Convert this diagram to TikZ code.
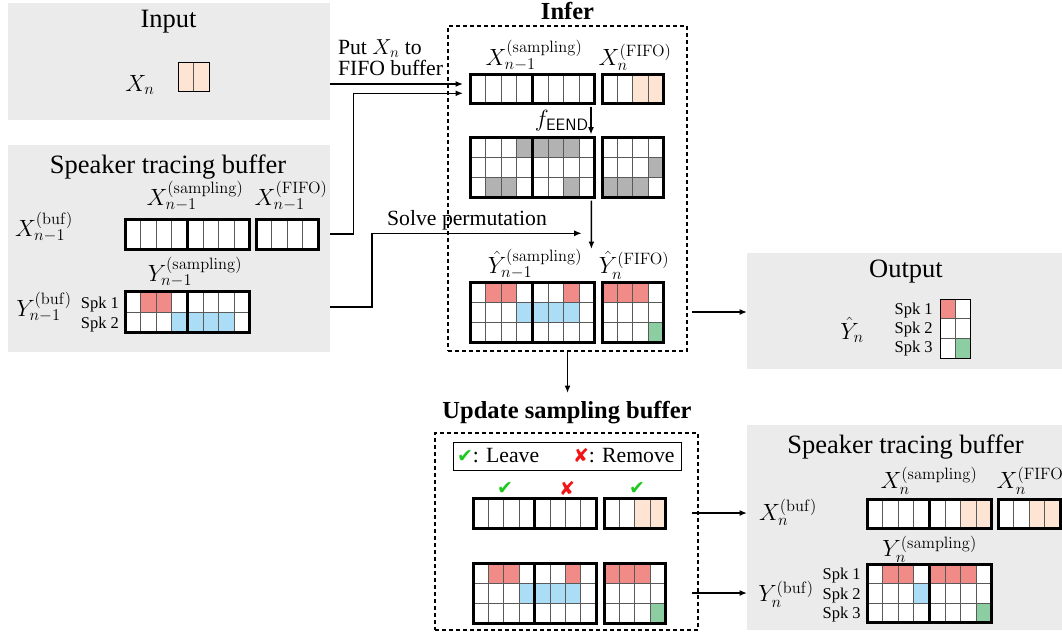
\RequirePackage{fix-cm}
\documentclass[tikz,border=0pt]{standalone}
\usepackage[no-math]{fontspec}
\setmainfont{Liberation Serif}
\newfontfamily\dvs{DejaVu Sans}
\usetikzlibrary{arrows.meta}
\definecolor{colw}{RGB}{255,255,255}
\definecolor{colp}{RGB}{241,139,135}
\definecolor{colb}{RGB}{172,221,246}
\definecolor{colg}{RGB}{140,205,162}
\definecolor{colo}{RGB}{253,228,211}
\definecolor{colk}{RGB}{178,178,178}
\definecolor{bgg}{RGB}{235,235,235}
\definecolor{chkgreen}{RGB}{30,200,30}
\definecolor{crossred}{RGB}{240,20,20}
\tikzset{
 cellst/.style={draw=black!65, line width=0.9pt},
 thickout/.style={draw=black, line width=3pt, inner sep=0pt, outer sep=0pt},
 thinout/.style={draw=black, line width=1pt, inner sep=0pt, outer sep=0pt},
 graybox/.style={fill=bgg, inner sep=0pt, outer sep=0pt, anchor=north west},
 dashbox/.style={draw, dash pattern=on 4pt off 3pt, line width=1.2pt, inner sep=0pt, outer sep=0pt, anchor=north west},
 arr/.style={line width=1.4pt, -{Latex[length=7.5pt,width=6pt]}},
 lbl/.style={inner sep=0pt, outer sep=0pt},
 ttl/.style={lbl, font=\fontsize{26.5}{30}\selectfont},
 bttl/.style={lbl, font=\fontsize{24.5}{28}\selectfont\bfseries},
 txt/.style={lbl, font=\fontsize{21.7}{24}\selectfont},
 mth/.style={lbl, font=\fontsize{23.5}{26}\selectfont},
 spk/.style={lbl, font=\fontsize{16.5}{19}\selectfont},
 tickmk/.style={lbl, font=\dvs\fontsize{19}{19}\selectfont},
}
\newcommand{\blk}[9]{%
  \foreach \rowL [count=\rI] in {#8} {
    \foreach \cellC [count=\cI] in \rowL {
      \filldraw[cellst, fill=col\cellC] ({#2+(\cI-1)*#4},{#3+(\rI-1)*#5}) rectangle ++(#4,#5);
    }
  }
  \node[#9, minimum width={#6*#4pt}, minimum height={#7*#5pt}, anchor=north west] (#1) at (#2,#3) {};
}
\begin{document}
\begin{tikzpicture}[x=1pt,y=-1pt]
\useasboundingbox (0,0) rectangle (1062,635);
\clip (0,0) rectangle (1062,635);
% background boxes
\node[graybox, minimum width=322pt, minimum height=117pt] (inbox) at (8,2.5) {};
\node[graybox, minimum width=322pt, minimum height=206.5pt] (lbbox) at (8,145) {};
\node[graybox, minimum width=330pt, minimum height=116pt] (outbox) at (747,253) {};
\node[graybox, minimum width=330pt, minimum height=205pt] (rbbox) at (747,425) {};
\node[dashbox, minimum width=239pt, minimum height=325pt] (inferbox) at (448,26) {};
\node[dashbox, minimum width=263pt, minimum height=197pt] (updbox) at (435,433) {};
% input
\blk{inX}{178}{62}{15.5}{29}{2}{1}{{o,o}}{thinout}
% left buffer
\blk{lbXa}{125}{219}{15.6}{30}{4}{1}{{w,w,w,w}}{thickout}
\blk{lbXb}{187.4}{219}{15.6}{30}{4}{1}{{w,w,w,w}}{thickout}
\blk{lbXf}{256}{219}{15.6}{30}{4}{1}{{w,w,w,w}}{thickout}
\blk{lbYa}{125}{291.5}{15.6}{20.5}{4}{2}{{w,p,p,w},{w,w,w,b}}{thickout}
\blk{lbYb}{187.4}{291.5}{15.6}{20.5}{4}{2}{{w,w,w,w},{b,b,b,w}}{thickout}
% infer
\blk{iXa}{470}{74}{15.6}{29.5}{4}{1}{{w,w,w,w}}{thickout}
\blk{iXb}{532.4}{74}{15.6}{29.5}{4}{1}{{w,w,w,w}}{thickout}
\blk{iXf}{602}{74}{15.4}{29.5}{4}{1}{{w,w,o,o}}{thickout}
\blk{iGa}{470}{137}{15.6}{20}{4}{3}{{w,w,w,k},{w,w,w,w},{w,k,k,w}}{thickout}
\blk{iGb}{532.4}{137}{15.6}{20}{4}{3}{{k,k,k,w},{w,w,w,w},{w,w,k,w}}{thickout}
\blk{iGf}{602}{137}{15.4}{20}{4}{3}{{w,w,w,w},{w,w,w,k},{k,k,k,w}}{thickout}
\blk{iYa}{470}{282}{15.6}{20}{4}{3}{{w,p,p,w},{w,w,w,b},{w,w,w,w}}{thickout}
\blk{iYb}{532.4}{282}{15.6}{20}{4}{3}{{w,w,p,w},{b,b,b,w},{w,w,w,w}}{thickout}
\blk{iYf}{602}{282}{15.4}{20}{4}{3}{{p,p,p,w},{w,w,w,w},{w,w,w,g}}{thickout}
% output
\blk{outY}{940}{299}{15}{19.7}{2}{3}{{p,w},{w,w},{w,g}}{thinout}
% update
\blk{uXa}{473}{498}{15.4}{30}{4}{1}{{w,w,w,w}}{thickout}
\blk{uXb}{534.6}{498}{15.4}{30}{4}{1}{{w,w,w,w}}{thickout}
\blk{uXf}{604}{498}{15.4}{30}{4}{1}{{w,w,o,o}}{thickout}
\blk{uYa}{473}{563}{15.4}{20}{4}{3}{{w,p,p,w},{w,w,w,b},{w,w,w,w}}{thickout}
\blk{uYb}{534.6}{563}{15.4}{20}{4}{3}{{w,w,p,w},{b,b,b,w},{w,w,w,w}}{thickout}
\blk{uYf}{604}{563}{15.4}{20}{4}{3}{{p,p,p,w},{w,w,w,w},{w,w,w,g}}{thickout}
% right buffer
\blk{rXa}{867}{499}{15.6}{29.5}{4}{1}{{w,w,w,w}}{thickout}
\blk{rXb}{929.4}{499}{15.6}{29.5}{4}{1}{{w,w,o,o}}{thickout}
\blk{rXf}{998}{499}{15.6}{29.5}{4}{1}{{w,w,o,o}}{thickout}
\blk{rYa}{867}{564}{15.6}{19.6}{4}{3}{{w,p,p,w},{w,w,w,b},{w,w,w,w}}{thickout}
\blk{rYb}{929.4}{564}{15.6}{19.6}{4}{3}{{p,p,p,w},{w,w,w,w},{w,w,w,g}}{thickout}
% legend
\node[draw, line width=1pt, minimum width=228pt, minimum height=28pt, anchor=north west, inner sep=0pt, outer sep=0pt] (legend) at (453,442) {};
\node[txt, anchor=base west] (lgL) at (457,462.7) {{\dvs\fontsize{19}{19}\selectfont\color{chkgreen}✔}: Leave};
\node[txt, anchor=base west] (lgR) at (573,462.7) {{\dvs\fontsize{19}{19}\selectfont\color{crossred}✘}: Remove};
\node[tickmk, text=chkgreen] (ck1) at (505,488) {✔};
\node[tickmk, text=crossred] (ck2) at (567,488) {✘};
\node[tickmk, text=chkgreen] (ck3) at (637,488) {✔};
% titles
\node[ttl, anchor=base] (tin) at (168.5,27.5) {Input};
\node[ttl, anchor=base] (tlb) at (168,173) {Speaker tracing buffer};
\node[ttl, anchor=base] (tout) at (906,277.7) {Output};
\node[ttl, anchor=base] (trb) at (905.5,453.3) {Speaker tracing buffer};
\node[bttl, anchor=base] (tinf) at (567.5,19.3) {Infer};
\node[bttl, anchor=base] (tupd) at (567,418.3) {Update sampling buffer};
% texts
\node[txt, anchor=base west] (put1) at (338,54.3) {Put $X_n$ to};
\node[txt, anchor=base west] (put2) at (338,75) {FIFO buffer};
\node[txt, anchor=base] (solve) at (467,225) {Solve permutation};
\node[mth] (feend) at (561.7,121) {$f_{\mathsf{EEND}}$};
% math labels
\node[mth, anchor=base] (lXn) at (140,91) {$X_n$};
\node[mth, anchor=base] (lXs) at (195,205.7) {$X_{n-1}^{(\mathrm{sampling})}$};
\node[mth, anchor=base] (lXf) at (291,205.7) {$X_{n-1}^{(\mathrm{FIFO})}$};
\node[mth, anchor=base] (lXb) at (44,236.7) {$X_{n-1}^{(\mathrm{buf})}$};
\node[mth, anchor=base] (lYs) at (195,281.7) {$Y_{n-1}^{(\mathrm{sampling})}$};
\node[mth, anchor=base] (lYb) at (44,316.7) {$Y_{n-1}^{(\mathrm{buf})}$};
\node[spk, anchor=base east] (ls1) at (119,308.3) {Spk 1};
\node[spk, anchor=base east] (ls2) at (119,328.3) {Spk 2};
\node[mth, anchor=base] (iXsl) at (534,65) {$X_{n-1}^{(\mathrm{sampling})}$};
\node[mth, anchor=base] (iXfl) at (635,65) {$X_{n}^{(\mathrm{FIFO})}$};
\node[mth, anchor=base] (iYsl) at (535,273.3) {$\hat{Y}_{n-1}^{(\mathrm{sampling})}$};
\node[mth, anchor=base] (iYfl) at (634,273.3) {$\hat{Y}_{n}^{(\mathrm{FIFO})}$};
\node[mth, anchor=base] (oYl) at (852,339) {$\hat{Y}_n$};
\node[spk, anchor=base east] (os1) at (932.7,314) {Spk 1};
\node[spk, anchor=base east] (os2) at (932.7,333.3) {Spk 2};
\node[spk, anchor=base east] (os3) at (932.7,352.7) {Spk 3};
\node[mth, anchor=base] (rXsl) at (929,488.3) {$X_{n}^{(\mathrm{sampling})}$};
\node[mth, anchor=base west] (rXfl) at (996.7,488.3) {$X_{n}^{(\mathrm{FIFO})}$};
\node[mth, anchor=base] (rXbl) at (788,520) {$X_{n}^{(\mathrm{buf})}$};
\node[mth, anchor=base] (rYsl) at (929.7,556.7) {$Y_{n}^{(\mathrm{sampling})}$};
\node[mth, anchor=base] (rYbl) at (786,601.7) {$Y_{n}^{(\mathrm{buf})}$};
\node[spk, anchor=base east] (rs1) at (860.7,579.3) {Spk 1};
\node[spk, anchor=base east] (rs2) at (860.7,599.3) {Spk 2};
\node[spk, anchor=base east] (rs3) at (860.7,618.3) {Spk 3};
% connectors
\coordinate (a1) at (463,84);
\draw[arr] (inbox.east |- a1) -- (a1);
\coordinate (c2) at (353.3,93.3);
\coordinate (a2) at (463,93.3);
\draw[arr] (lbbox.east |- lbXf) -| (c2) -- (a2);
\coordinate (s3) at (330,307);
\coordinate (c3) at (372,233.3);
\coordinate (a3) at (581.7,233.3);
\draw[arr] (lbbox.east |- s3) -| (c3) -- (a3);
\draw[arr, shorten <=3pt, shorten >=2.5pt] ([xshift=-3.8pt]iXb.south east) -- ([xshift=-3.8pt]iGb.north east);
\coordinate (a5) at (591.4,249);
\draw[arr, shorten <=3.5pt] ([xshift=-3.4pt]iGb.south east) -- (a5);
\draw[arr, shorten <=5pt] (inferbox.east |- iYf.east) -- (outbox.west |- iYf.east);
\coordinate (a7) at (567.5,393);
\draw[arr] (inferbox.south) -- (a7);
\draw[arr] ([xshift=26pt]uXf.east) -- (rbbox.west |- uXf.east);
\draw[arr] ([xshift=26pt]uYf.east) -- (rbbox.west |- uYf.east);
\end{tikzpicture}
\end{document}
